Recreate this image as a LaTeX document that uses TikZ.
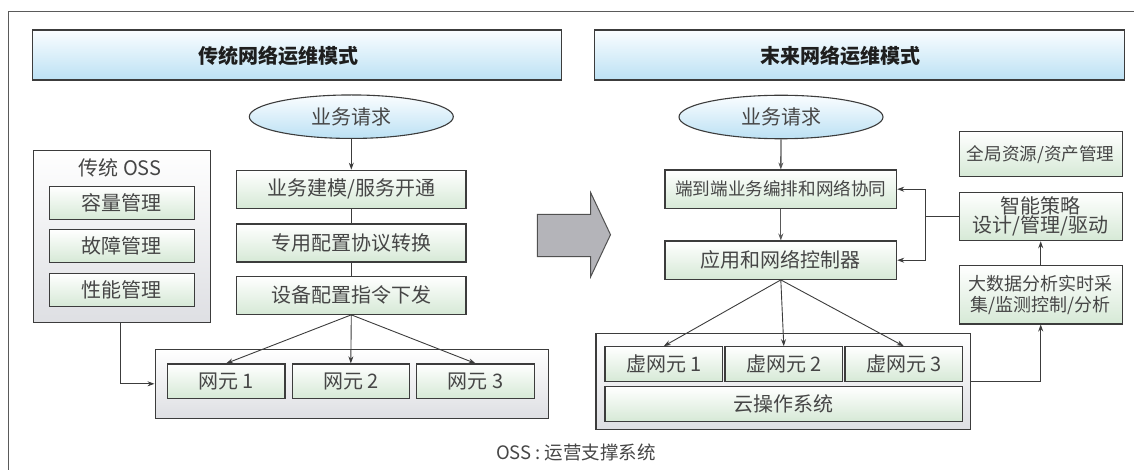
\documentclass[tikz,border=0pt]{standalone}
\usepackage{fontspec}
\setmainfont{Noto Sans CJK SC}
\usetikzlibrary{arrows.meta,shapes.geometric,shadings}

\definecolor{edge}{HTML}{3C3C3C}
\definecolor{txt}{HTML}{464646}
\definecolor{titletxt}{HTML}{1E1E1E}
\definecolor{bluebot}{HTML}{BCE1F4}
\definecolor{bluetop}{HTML}{FAFDFF}
\definecolor{greenbot}{HTML}{D6E9D6}
\definecolor{graybot}{HTML}{DEDFE3}
\definecolor{arrowfill}{HTML}{B4B4B9}
\definecolor{framecol}{HTML}{5A5A5A}

\begin{document}
\begin{tikzpicture}[x=1pt,y=-1pt,
  basebox/.style={draw=edge, line width=1.1pt, inner sep=0pt, text=txt,
    align=center, font=\fontsize{20}{22}\selectfont},
  titlebar/.style={basebox, top color=bluetop, bottom color=bluebot, minimum width=529.4pt, minimum height=50pt},
  titletext/.style={text=titletxt, inner sep=0pt, font=\fontsize{20}{22}\selectfont\bfseries},
  request/.style={basebox, ellipse, top color=bluetop, bottom color=bluebot, minimum width=204pt, minimum height=43.5pt},
  greenbox/.style={basebox, top color=white, bottom color=greenbot},
  graybox/.style={basebox, top color=white, bottom color=graybot},
  flowbox/.style={greenbox, minimum width=229.3pt, minimum height=38pt},
  ossbox/.style={greenbox, minimum width=145.3pt, minimum height=33.3pt},
  nebox/.style={greenbox, minimum width=117.5pt, minimum height=34.5pt},
  vnebox/.style={greenbox, minimum width=117.7pt, minimum height=35pt},
  sidebox/.style={greenbox, minimum width=163.3pt},
  link/.style={draw=edge, line width=0.9pt},
  arrowlink/.style={link, -{Stealth[length=7pt,width=5pt]}},
  heavylink/.style={draw=edge!85, line width=1.3pt, -{Stealth[length=7pt,width=5pt]}}
]
\useasboundingbox (0,0) rectangle (1134,470);

% outer frame (only top and left edges fall inside the page)
\draw[framecol, line width=1.2pt] (1134,11.7) -- (8.3,11.7) -- (8.3,470);

% ---------- titles ----------
\node[titlebar] (tb1) at (297,55) {};
\node[titletext] (tt1) at (278,56) {传统网络运维模式};
\node[titlebar] (tb2) at (859.5,55) {};
\node[titletext] (tt2) at (840,56) {末来网络运维模式};

% ---------- traditional mode ----------
\node[request] (req1) at (351.3,116.7) {业务请求};
\node[flowbox] (b1) at (351.3,189.2) {业务建模/服务开通};
\node[flowbox] (b2) at (351.3,243) {专用配置协议转换};
\node[flowbox] (b3) at (351.3,295.3) {设备配置指令下发};

\node[graybox, minimum width=176.7pt, minimum height=172pt] (oss) at (121.7,236.7) {};
\node[text=txt, inner sep=0pt, font=\fontsize{20}{22}\selectfont] (osst) at (120,168) {传统 OSS};
\node[ossbox] (o1) at (121.7,203.3) {容量管理};
\node[ossbox] (o2) at (121.7,246) {故障管理};
\node[ossbox] (o3) at (121.7,290) {性能管理};

\node[graybox, minimum width=393.3pt, minimum height=69pt] (contL) at (351.7,383.8) {};
\node[nebox] (n1) at (226.2,381.2) {网元 1};
\node[nebox] (n2) at (350.8,381.2) {网元 2};
\node[nebox] (n3) at (475.5,381.2) {网元 3};

\draw[arrowlink] (req1.south) -- (b1.north);
\draw[link] (b1.south) -- (b2.north);
\draw[link] (b2.south) -- (b3.north);
\draw[arrowlink] (b3.south) -- (n1.north);
\draw[arrowlink] (b3.south) -- (n2.north);
\draw[arrowlink] (b3.south) -- (n3.north);
\coordinate (ossout) at (120.7,322.7);
\draw[arrowlink] (ossout) |- (contL.west);

% ---------- transition arrow ----------
\draw[draw=edge!90, line width=1pt, fill=arrowfill, line join=miter]
  (537.3,214.3) -- (590.7,214.3) -- (590.7,192.7) -- (610.5,234.7)
  -- (590.7,276.7) -- (590.7,256.7) -- (537.3,256.7) -- cycle;

% ---------- future mode ----------
\node[request] (req2) at (781,117) {业务请求};
\node[greenbox, minimum width=231.7pt, minimum height=38.3pt, font=\fontsize{17.6}{20}\selectfont] (r1) at (780.8,189.2) {端到端业务编排和网络协同};
\node[greenbox, minimum width=231.7pt, minimum height=38.3pt] (r2) at (780.8,260.2) {应用和网络控制器};

\node[graybox, minimum width=374.7pt, minimum height=96.3pt] (contR) at (783.3,381.2) {};
\node[vnebox] (v1) at (663.8,364.2) {虚网元 1};
\node[vnebox] (v2) at (783.8,364.2) {虚网元 2};
\node[vnebox] (v3) at (903.8,364.2) {虚网元 3};
\node[greenbox, minimum width=357.3pt, minimum height=35pt] (cos) at (783.6,404.2) {云操作系统};

\node[sidebox, minimum height=45pt, font=\fontsize{17.6}{20}\selectfont] (g1) at (1040.7,154.2) {全局资源/资产管理};
\node[sidebox, minimum height=48pt, font=\fontsize{20}{19}\selectfont] (g2) at (1040.7,216.7) {智能策略\\设计/管理/驱动};
\node[sidebox, minimum height=58.3pt, font=\fontsize{18}{21.5}\selectfont] (g3) at (1040.7,294.8) {大数据分析实时采\\集/监测控制/分析};

\draw[heavylink] (req2.south) -- (r1.north);
\draw[heavylink] (r1.south) -- (r2.north);
\draw[arrowlink] (r2.south) -- (v1.north);
\draw[arrowlink] (r2.south) -- (v2.north);
\draw[arrowlink] (r2.south) -- (v3.north);

\coordinate (fb) at (925.7,216.7);
\draw[link] (g2.west) -- (fb);
\draw[arrowlink] (fb) |- (r1.east);
\draw[arrowlink] (fb) |- (r2.east);
\draw[arrowlink] (g3.north) -- (g2.south);
\draw[arrowlink] (contR.east) -| (g3.south);

% footnote
\node[text=txt, inner sep=0pt, font=\fontsize{18.5}{20}\selectfont] (cap) at (576,452) {OSS\hspace{4pt}:\hspace{4pt}运营支撑系统};
\end{tikzpicture}
\end{document}
